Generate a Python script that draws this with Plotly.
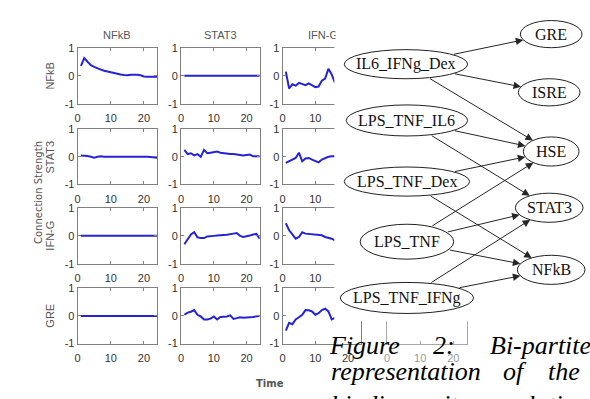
import plotly.graph_objects as go

W, H = 590, 399

# ---------------- data ----------------
time_full = list(range(1, 25))
time_part = list(range(1, 17))

row_names = ["NFkB", "STAT3", "IFN-G", "GRE"]
col_names = ["NFkB", "STAT3", "IFN-G"]

nfkb_by_nfkb = [0.35, 0.63, 0.5, 0.38, 0.32, 0.26, 0.22, 0.18, 0.15, 0.12, 0.1, 0.08,
                0.05, 0.03, 0.02, 0.04, 0.05, 0.04, 0.02, -0.02, -0.03, -0.03, -0.03, -0.03]
nfkb_by_stat3 = [0.0] * 24
nfkb_by_ifng = [0.15, -0.45, -0.3, -0.35, -0.25, -0.3, -0.33, -0.27, -0.35, -0.4, -0.38,
                -0.17, -0.1, 0.25, 0.05, -0.25]

stat3_by_nfkb = [0.05, 0.05, 0.03, 0.0, -0.03, 0.0, 0.02, 0.0, 0.0, 0.02, 0.02, 0.0,
                 0.02, 0.02, 0.0, 0.0, 0.0, 0.02, 0.0, 0.0, 0.0, -0.01, -0.02, -0.03]
stat3_by_stat3 = [0.25, 0.1, 0.13, 0.05, 0.1, 0.0, 0.25, 0.13, 0.15, 0.17, 0.19, 0.15,
                  0.13, 0.12, 0.1, 0.1, 0.08, 0.07, 0.05, 0.07, 0.08, 0.02, 0.02, 0.02]
stat3_by_ifng = [-0.22, -0.15, -0.08, -0.04, 0.15, -0.16, -0.06, -0.04, -0.1, -0.16,
                 -0.2, -0.1, -0.05, 0.0, 0.02, 0.02]

ifng_by_nfkb = [0.0] * 24
ifng_by_stat3 = [-0.3, -0.12, 0.05, 0.13, -0.05, -0.08, -0.08, -0.02, 0.0, 0.0, 0.01, 0.01,
                 0.03, 0.04, 0.07, 0.08, 0.1, 0.0, -0.04, -0.02, 0.01, 0.05, 0.07, -0.1]
ifng_by_ifng = [0.45, 0.2, 0.05, -0.1, -0.04, 0.13, 0.08, 0.07, 0.07, 0.06, 0.04, 0.02,
                -0.04, -0.06, -0.1, -0.16]

gre_by_nfkb = [0.0] * 24
gre_by_stat3 = [0.04, 0.12, 0.15, 0.21, 0.04, -0.02, -0.13, -0.13, -0.1, -0.02, -0.13, -0.04,
                -0.03, -0.02, 0.02, -0.11, -0.08, -0.05, -0.07, -0.07, -0.05, -0.04, -0.02, 0.0]
gre_by_ifng = [-0.53, -0.25, -0.3, -0.13, -0.05, 0.04, 0.21, 0.2, 0.16, 0.04, 0.1, 0.21,
               0.26, 0.16, -0.13, -0.07]

grid_series = [
    [(time_full, nfkb_by_nfkb), (time_full, nfkb_by_stat3), (time_part, nfkb_by_ifng)],
    [(time_full, stat3_by_nfkb), (time_full, stat3_by_stat3), (time_part, stat3_by_ifng)],
    [(time_full, ifng_by_nfkb), (time_full, ifng_by_stat3), (time_part, ifng_by_ifng)],
    [(time_full, gre_by_nfkb), (time_full, gre_by_stat3), (time_part, gre_by_ifng)],
]

x_ticks = [0, 10, 20]
y_ticks = [-1, 0, 1]
y_tick_text = ["-1", "0", "1"]

y_label = "Connection Strength"
x_label = "Time"

edges = [
    ("IL6_IFNg_Dex", "GRE"), ("IL6_IFNg_Dex", "ISRE"), ("IL6_IFNg_Dex", "HSE"),
    ("LPS_TNF_IL6", "HSE"), ("LPS_TNF_IL6", "STAT3"),
    ("LPS_TNF_Dex", "HSE"), ("LPS_TNF_Dex", "NFkB"),
    ("LPS_TNF", "HSE"), ("LPS_TNF", "STAT3"), ("LPS_TNF", "NFkB"),
    ("LPS_TNF_IFNg", "STAT3"), ("LPS_TNF_IFNg", "NFkB"),
]

caption_lines = [["Figure", "2:", "Bi-partite"],
                 ["representation", "of", "the"],
                 ["binding", "site", "relations"]]

# ---------------- layout geometry (pixels) ----------------
col_px = [(75, 155), (179, 258), (281, 360), (386, 466)]
row_px = [(43, 101), (127, 184), (208, 266), (291, 348)]

node_geom = {
    "GRE": (551, 29, 31, 14),
    "IL6_IFNg_Dex": (405, 60, 62, 15),
    "ISRE": (549, 89, 31, 14),
    "LPS_TNF_IL6": (406, 118, 61, 16),
    "HSE": (551, 150, 28, 15),
    "LPS_TNF_Dex": (406, 181, 63, 15),
    "STAT3": (549, 208, 34, 15),
    "LPS_TNF": (406, 243, 47, 18),
    "NFkB": (551, 272, 34, 15),
    "LPS_TNF_IFNg": (406, 301, 67, 16),
}
caption_word_x = [[326, 430, 487], [328, 501, 546], [328, 430, 505]]
caption_line_y = [350, 377]
caption_last_top = 394
cover = (333, 0, 590, 325)

FRAME = "#808080"
TICKC = "#333333"
LABELC = "#555555"
BLUE = "#2424d6"
TFONT = "Liberation Sans"
SERIF = "Liberation Serif"


def xd(a, b):
    return [a / W, b / W]


def yd(top, bottom):
    return [1 - bottom / H, 1 - top / H]


fig = go.Figure()
layout = {}

n = 0
for r in range(4):
    for c in range(3):
        n += 1
        xs, ys = grid_series[r][c]
        fig.add_trace(go.Scatter(x=xs, y=ys, mode="lines",
                                 line=dict(color=BLUE, width=2),
                                 xaxis=f"x{n}", yaxis=f"y{n}",
                                 showlegend=False, hoverinfo="skip"))
# empty trace so the partly hidden fourth-column panel gets drawn
fig.add_trace(go.Scatter(x=[], y=[], mode="lines", xaxis="x13", yaxis="y13",
                         showlegend=False, hoverinfo="skip"))


def axis_pair(n, cpx, rpx, color=FRAME, tcolor=TICKC, show_y=True):
    layout[f"xaxis{n}"] = dict(domain=xd(*cpx), anchor=f"y{n}", range=[0, 24],
                               tickvals=x_ticks, ticks="inside", ticklen=3,
                               ticklabelstandoff=4,
                               tickcolor=color, showline=True, linecolor=color,
                               linewidth=1, mirror="ticks", showgrid=False,
                               zeroline=False, tickfont=dict(family=TFONT, size=11, color=tcolor))
    layout[f"yaxis{n}"] = dict(domain=yd(*rpx), anchor=f"x{n}", range=[-1, 1],
                               tickvals=y_ticks, ticktext=y_tick_text, ticks="inside",
                               ticklen=3, tickcolor=color, showline=True, linecolor=color,
                               linewidth=1, mirror="ticks", showgrid=False, zeroline=False,
                               showticklabels=show_y,
                               tickfont=dict(family=TFONT, size=11, color=tcolor))


n = 0
for r in range(4):
    for c in range(3):
        n += 1
        axis_pair(n, col_px[c], row_px[r])
# partially visible fourth column, bottom row
axis_pair(13, col_px[3], row_px[3], color="#a8a8a8", tcolor="#9a9a9a", show_y=False)

# overlay pixel axis for the diagram
layout["xaxis14"] = dict(domain=[0, 1], anchor="y14", range=[0, W], visible=False, fixedrange=True)
layout["yaxis14"] = dict(domain=[0, 1], anchor="x14", range=[H, 0], visible=False, fixedrange=True)

shapes = []
annotations = []

# column titles & row labels
for c, name in enumerate(col_names):
    cx = (col_px[c][0] + col_px[c][1]) / 2
    if c == 2:
        annotations.append(dict(x=cx - 15, y=30, xref="x14", yref="y14", text=name,
                                showarrow=False, xanchor="left", align="left",
                                width=cover[0] - (cx - 15), borderpad=0,
                                font=dict(family=TFONT, size=11, color=LABELC)))
    else:
        annotations.append(dict(x=cx, y=30, xref="x14", yref="y14", text=name,
                                showarrow=False, font=dict(family=TFONT, size=11, color=LABELC)))
for r, name in enumerate(row_names):
    cy = (row_px[r][0] + row_px[r][1]) / 2
    annotations.append(dict(x=47, y=cy, xref="x14", yref="y14", text=name, textangle=-90,
                            showarrow=False, font=dict(family=TFONT, size=11, color=LABELC)))
annotations.append(dict(x=35, y=192, xref="x14", yref="y14", text=y_label, textangle=-90,
                        showarrow=False, font=dict(family="DejaVu Sans", size=10, color=LABELC)))
annotations.append(dict(x=268, y=389, xref="x14", yref="y14", text="<b>" + x_label + "</b>",
                        showarrow=False, font=dict(family="DejaVu Sans", size=10, color=LABELC)))

# white cover for the diagram panel
shapes.append(dict(type="rect", xref="x14", yref="y14", x0=cover[0], y0=cover[1],
                   x1=cover[2], y1=cover[3], fillcolor="white", line=dict(width=0),
                   layer="above"))

for name, (cx, cy, rx, ry) in node_geom.items():
    shapes.append(dict(type="circle", xref="x14", yref="y14", x0=cx - rx, x1=cx + rx,
                       y0=cy - ry, y1=cy + ry, line=dict(color="#222222", width=1),
                       layer="above"))
    annotations.append(dict(x=cx, y=cy, xref="x14", yref="y14", text=name, showarrow=False,
                            font=dict(family=SERIF, size=16, color="#111111")))


def boundary(cx, cy, rx, ry, dx, dy):
    t = 1.0 / ((dx / rx) ** 2 + (dy / ry) ** 2) ** 0.5
    return cx + dx * t, cy + dy * t


for s, t in edges:
    sx, sy, srx, sry = node_geom[s]
    tx, ty, trx, try_ = node_geom[t]
    dx, dy = tx - sx, ty - sy
    x0, y0 = boundary(sx, sy, srx, sry, dx, dy)
    x1, y1 = boundary(tx, ty, trx, try_, -dx, -dy)
    annotations.append(dict(x=x1, y=y1, ax=x0, ay=y0, xref="x14", yref="y14",
                            axref="x14", ayref="y14", text="", showarrow=True,
                            arrowhead=2, arrowsize=1.5, arrowwidth=1,
                            arrowcolor="#262626", standoff=0, startstandoff=0))

for li, words in enumerate(caption_lines):
    for wi, word in enumerate(words):
        if li < 2:
            yy, anchor = caption_line_y[li], "middle"
        else:
            yy, anchor = caption_last_top, "top"
        annotations.append(dict(x=caption_word_x[li][wi], y=yy, xref="x14",
                                yref="y14", text=word, showarrow=False, xanchor="left",
                                yanchor=anchor,
                                font=dict(family=SERIF, size=26, color="black", style="italic")))

fig.update_layout(width=W, height=H, margin=dict(l=0, r=0, t=0, b=0),
                  paper_bgcolor="white", plot_bgcolor="rgba(0,0,0,0)",
                  shapes=shapes, annotations=annotations, **layout)

fig.write_html("out.html", config={"displayModeBar": False},
               post_script="document.body.style.margin='0';document.body.style.overflow='hidden';")
